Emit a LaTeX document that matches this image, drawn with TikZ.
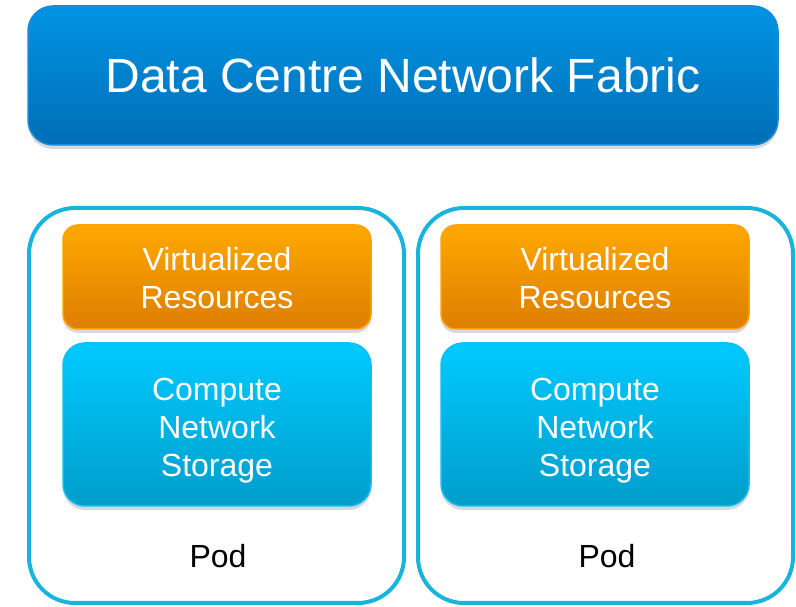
\documentclass[tikz,border=0pt]{standalone}
\usepackage{fontspec}
\setmainfont{Liberation Sans}
\usetikzlibrary{shadows}
\definecolor{fabtop}{HTML}{0094E4}
\definecolor{fabbot}{HTML}{006EB6}
\definecolor{fabline}{HTML}{1A8AD8}
\definecolor{ortop}{HTML}{FFA800}
\definecolor{orbot}{HTML}{DD7E00}
\definecolor{orline}{HTML}{FFA200}
\definecolor{cytop}{HTML}{00CAFF}
\definecolor{cybot}{HTML}{009DCA}
\definecolor{cyline}{HTML}{10BEF0}
\definecolor{podline}{HTML}{18B4DE}
\newcommand{\lowtext}[2]{\raisebox{-#1}[0pt][0pt]{\begin{tabular}{@{}c@{}}#2\end{tabular}}}
\tikzset{
  fabric/.style={rectangle, rounded corners=25pt, minimum width=750pt, minimum height=139pt,
    top color=fabtop, bottom color=fabbot, draw=fabline, line width=1.5pt,
    drop shadow={shadow xshift=0pt, shadow yshift=-4pt, opacity=0.3},
    text=white, font=\fontsize{48}{52}\selectfont},
  podbox/.style={rectangle, rounded corners=46pt, minimum width=375pt, minimum height=395pt,
    draw=podline, line width=4pt},
  virtbox/.style={rectangle, rounded corners=15pt, minimum width=308pt, minimum height=104pt,
    top color=ortop, bottom color=orbot, draw=orline, line width=1.5pt,
    drop shadow={shadow xshift=0pt, shadow yshift=-4pt, opacity=0.3},
    text=white, font=\fontsize{32}{38}\selectfont},
  compbox/.style={rectangle, rounded corners=22pt, minimum width=308pt, minimum height=163pt,
    top color=cytop, bottom color=cybot, draw=cyline, line width=1.5pt,
    drop shadow={shadow xshift=0pt, shadow yshift=-4pt, opacity=0.3},
    text=white, font=\fontsize{32}{38}\selectfont},
  podlabel/.style={text=black, font=\fontsize{32}{38}\selectfont}
}
\begin{document}
\begin{tikzpicture}[x=1pt,y=1pt]
\useasboundingbox (0,0) rectangle (796,607);
\node[fabric] (fab) at (403,531.5) {Data Centre Network Fabric};
\node[podbox] (podA) at (216.5,201.5) {};
\node[podbox] (podB) at (605.5,201.5) {};
\node[virtbox] (virtA) at (217,330) {\lowtext{11pt}{Virtualized\\Resources}};
\node[virtbox] (virtB) at (595,330) {\lowtext{11pt}{Virtualized\\Resources}};
\node[compbox] (compA) at (217,182.5) {\lowtext{13pt}{Compute\\Network\\Storage}};
\node[compbox] (compB) at (595,182.5) {\lowtext{13pt}{Compute\\Network\\Storage}};
\node[podlabel] (labA) at (218,51) {Pod};
\node[podlabel] (labB) at (607,51) {Pod};
\end{tikzpicture}
\end{document}
